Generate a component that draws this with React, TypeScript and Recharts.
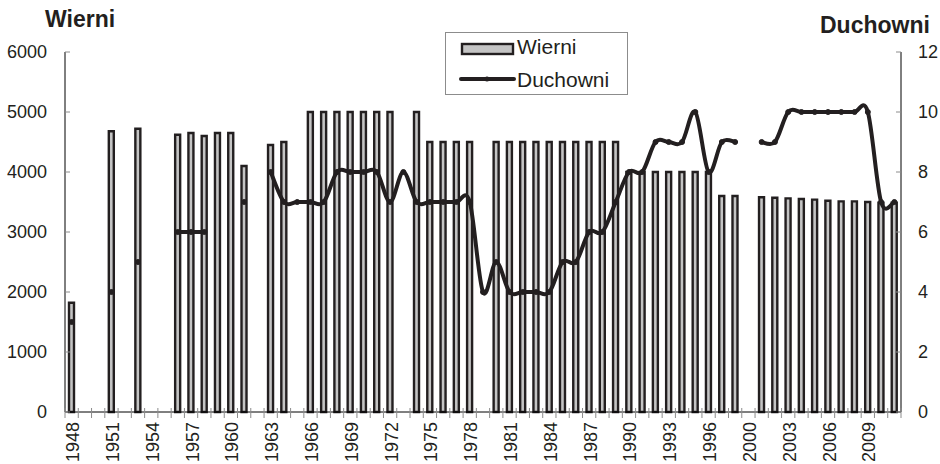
import { Bar, ComposedChart, Line, XAxis, YAxis } from "recharts";

const years = [
  "1948", "1949", "1950", "1951", "1952", "1953", "1954", "1955", "1956", "1957",
  "1958", "1959", "1960", "1961", "1962", "1963", "1964", "1965", "1966", "1967",
  "1968", "1969", "1970", "1971", "1972", "1973", "1974", "1975", "1976", "1977",
  "1978", "1979", "1980", "1981", "1982", "1983", "1984", "1985", "1986", "1987",
  "1988", "1989", "1990", "1991", "1992", "1993", "1994", "1995", "1996", "1997",
  "1998", "2000", "2001", "2002", "2003", "2004", "2005", "2006", "2007", "2008",
  "2009", "2010", "2011",
];

const wierni: (number | null)[] = [
  1820, null, null, 4680, null, 4720, null, null, 4620, 4650,
  4600, 4650, 4650, 4100, null, 4450, 4500, null, 5000, 5000,
  5000, 5000, 5000, 5000, 5000, null, 5000, 4500, 4500, 4500,
  4500, null, 4500, 4500, 4500, 4500, 4500, 4500, 4500, 4500,
  4500, 4500, 4000, 4000, 4000, 4000, 4000, 4000, 4000, 3600,
  3600, null, 3580, 3570, 3560, 3550, 3540, 3520, 3510, 3510,
  3500, 3490, 3490,
];

const duchowni: (number | null)[] = [
  3, null, null, 4, null, 5, null, null, 6, 6,
  6, null, null, 7, null, 8, 7, 7, 7, 7,
  8, 8, 8, 8, 7, 8, 7, 7, 7, 7,
  7, 4, 5, 4, 4, 4, 4, 5, 5, 6,
  6, 7, 8, 8, 9, 9, 9, 10, 8, 9,
  9, null, 9, 9, 10, 10, 10, 10, 10, 10,
  10, 7, 7,
];

const leftTicks = [0, 1000, 2000, 3000, 4000, 5000, 6000];
const rightTicks = [0, 2, 4, 6, 8, 10, 12];

const data = years.map((year, i) => ({ year, wierni: wierni[i], duchowni: duchowni[i] }));

const FONT = "'Liberation Sans', Arial, sans-serif";
const INK = "#231f20";
const BAR_FILL = "#c4c4c4";
const PLOT_LEFT = 65;
const PLOT_RIGHT = 901;
const BAND = (PLOT_RIGHT - PLOT_LEFT) / years.length;

// smoothed line like the spreadsheet one (uniform catmull-rom)
const smoothCurve = (context: any) => {
  let pts: number[][] = [];
  return {
    areaStart() {},
    areaEnd() {},
    lineStart() {
      pts = [];
    },
    point(x: number, y: number) {
      pts.push([+x, +y]);
    },
    lineEnd() {
      const n = pts.length;
      if (!n) return;
      context.moveTo(pts[0][0], pts[0][1]);
      for (let i = 0; i < n - 1; i++) {
        const p0 = pts[i - 1] || pts[i];
        const p1 = pts[i];
        const p2 = pts[i + 1];
        const p3 = pts[i + 2] || p2;
        context.bezierCurveTo(
          p1[0] + (p2[0] - p0[0]) / 6,
          p1[1] + (p2[1] - p0[1]) / 6,
          p2[0] - (p3[0] - p1[0]) / 6,
          p2[1] - (p3[1] - p1[1]) / 6,
          p2[0],
          p2[1]
        );
      }
    },
  };
};

const XTick = (props: any) => {
  const { x, y, payload, index } = props;
  const last = index === years.length - 1;
  return (
    <g>
      <line x1={x - BAND / 2} x2={x - BAND / 2} y1={y - 4} y2={y + 6} stroke="#8c8c8c" />
      {last && <line x1={x + BAND / 2} x2={x + BAND / 2} y1={y - 4} y2={y + 6} stroke="#8c8c8c" />}
      {index % 3 === 0 && (
        <text
          transform={`translate(${x + 1},${y + 10}) rotate(-90)`}
          textAnchor="end"
          dy="0.36em"
          fontSize={18}
          fontFamily={FONT}
          fill={INK}
        >
          {payload.value}
        </text>
      )}
    </g>
  );
};

const LeftTick = (props: any) => {
  const { x, y, payload } = props;
  return (
    <g>
      <line x1={x} x2={x + 5} y1={y} y2={y} stroke="#8c8c8c" />
      <text x={x - 18} y={y} dy="0.36em" textAnchor="end" fontSize={18} fontFamily={FONT} fill={INK}>
        {payload.value}
      </text>
    </g>
  );
};

const RightTick = (props: any) => {
  const { x, y, payload } = props;
  return (
    <g>
      <line x1={x - 5} x2={x} y1={y} y2={y} stroke="#8c8c8c" />
      <text x={x + 17} y={y} dy="0.36em" textAnchor="start" fontSize={18} fontFamily={FONT} fill={INK}>
        {payload.value}
      </text>
    </g>
  );
};

export default function App() {
  return (
    <div style={{ position: "absolute", left: 0, top: 0, width: 940, height: 464, background: "#fff" }}>
      <ComposedChart width={940} height={464} data={data} margin={{ top: 52, right: 0, bottom: 0, left: 5 }}>
        <XAxis
          dataKey="year"
          height={52}
          interval={0}
          tick={<XTick />}
          tickLine={false}
          tickSize={0}
          tickMargin={0}
          axisLine={{ stroke: "#000" }}
        />
        <YAxis
          yAxisId="left"
          width={60}
          domain={[0, 6000]}
          ticks={leftTicks}
          tick={<LeftTick />}
          tickLine={false}
          tickSize={0}
          tickMargin={0}
          axisLine={{ stroke: "#000" }}
        />
        <YAxis
          yAxisId="right"
          orientation="right"
          width={39}
          domain={[0, 12]}
          ticks={rightTicks}
          tick={<RightTick />}
          tickLine={false}
          tickSize={0}
          tickMargin={0}
          axisLine={{ stroke: "#000" }}
        />
        <Bar
          yAxisId="left"
          dataKey="wierni"
          name="Wierni"
          barSize={5}
          fill={BAR_FILL}
          stroke={INK}
          strokeWidth={2.4}
          isAnimationActive={false}
        />
        <Line
          yAxisId="right"
          dataKey="duchowni"
          name="Duchowni"
          type={smoothCurve as any}
          stroke={INK}
          strokeWidth={4}
          dot={{ r: 2.5, fill: INK, stroke: INK, strokeWidth: 1 }}
          connectNulls={false}
          isAnimationActive={false}
        />
      </ComposedChart>
      <svg
        width={940}
        height={464}
        style={{ position: "absolute", left: 0, top: 0, pointerEvents: "none" }}
      >
        <text x={45} y={27} fontSize={23} fontWeight="bold" fontFamily={FONT} fill={INK}>
          Wierni
        </text>
        <text x={820} y={33} fontSize={23} fontWeight="bold" fontFamily={FONT} fill={INK}>
          Duchowni
        </text>
        <g transform="translate(445,32)">
          <rect x={0.5} y={0.5} width={182} height={62} fill="#fff" stroke="#8c8c8c" />
          <rect x={17} y={12} width={51} height={10} fill={BAR_FILL} stroke={INK} strokeWidth={2.4} />
          <text x={72} y={22} fontSize={21} fontFamily={FONT} fill={INK}>
            Wierni
          </text>
          <line x1={16} x2={69} y1={47} y2={47} stroke={INK} strokeWidth={4} strokeLinecap="round" />
          <circle cx={42} cy={47} r={2.5} fill={INK} />
          <text x={72} y={55} fontSize={21} fontFamily={FONT} fill={INK}>
            Duchowni
          </text>
        </g>
      </svg>
    </div>
  );
}
